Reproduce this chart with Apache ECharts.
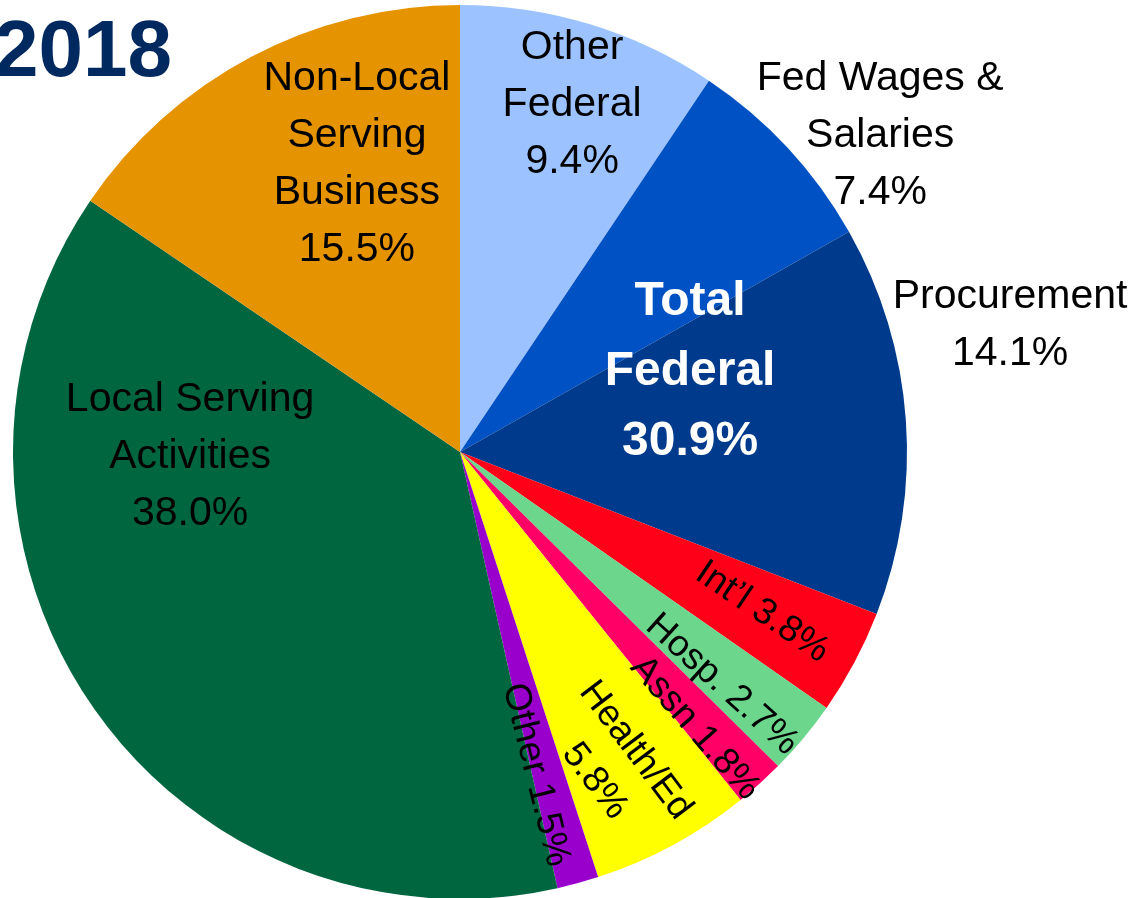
<!DOCTYPE html>
<html>
<head>
<meta charset="utf-8">
<script src="https://cdn.jsdelivr.net/npm/echarts@6/dist/echarts.min.js"></script>
<style>
  html, body { margin: 0; padding: 0; background: #fff; }
  #chart { width: 1133px; height: 898px; }
</style>
</head>
<body>
<div id="chart"></div>
<script>
// slices, clockwise from 12 o'clock
const sliceNames = [
  'Other\nFederal',
  'Fed Wages &\nSalaries',
  'Procurement',
  'Int\u2019l',
  'Hosp.',
  'Assn',
  'Health/Ed',
  'Other',
  'Local Serving\nActivities',
  'Non-Local\nServing\nBusiness'
];
const sliceValues = [9.4, 7.4, 14.1, 3.8, 2.7, 1.8, 5.8, 1.5, 38.0, 15.5];
const sliceColors = [
  '#9cc3ff', '#0052c4', '#003a8c', '#ff0019', '#6cd68c',
  '#ff0066', '#ffff00', '#9900cc', '#006640', '#e59400'
];
// what goes between the name and the percent
const valueSep = ['\n', '\n', '\n', ' ', ' ', ' ', '\n', ' ', '\n', '\n'];

// the first three slices make up total federal
const groupNames = ['Total\nFederal', ''];
const fedCount = 3;

const CX = 460, CY = 452, R = 447;
const labelFont = "'Liberation Sans Narrow', 'Arial Narrow', 'Liberation Sans', Arial, sans-serif";

// label spot: [degrees clockwise from 12 o'clock, fraction of radius, text rotation]
const labelSpots = [
  [17.9, 0.816, 0],
  [53, 1.177, 0],
  [77, 1.263, 0],
  [117.9, 0.765, -34],
  [131.6, 0.784, -42],
  [139.6, 0.811, -49],
  [153.7, 0.783, -53],
  [166.8, 0.742, -76],
  [269, 0.604, 0],
  [340.3, 0.684, 0]
];
// the rotated labels on the thin slices are a bit smaller
const labelSizes = [41, 41, 41, 37, 37, 37, 37, 37, 41, 41];
const groupSpot = [70.8, 0.545, 0];

function spotToLayout(spot) {
  const a = spot[0] * Math.PI / 180;
  const r = spot[1] * R;
  return {
    x: CX + r * Math.sin(a),
    y: CY - r * Math.cos(a),
    rotate: spot[2],
    align: 'center',
    verticalAlign: 'middle'
  };
}

const sum = arr => arr.reduce((s, v) => s + v, 0);
const fedTotal = sum(sliceValues.slice(0, fedCount));
const restTotal = sum(sliceValues.slice(fedCount));

const myChart = echarts.init(document.getElementById('chart'));
const option = {
  animation: false,
  backgroundColor: '#fff',
  title: {
    text: '2018',
    left: -6,
    top: 14,
    padding: 0,
    textStyle: {
      fontFamily: labelFont,
      fontSize: 80,
      fontWeight: 'bold',
      color: '#00295f'
    }
  },
  series: [
    {
      type: 'pie',
      center: [CX, CY],
      radius: R,
      startAngle: 90,
      clockwise: true,
      silent: true,
      itemStyle: { borderWidth: 0 },
      label: {
        show: true,
        position: 'inside',
        fontFamily: labelFont,
        fontSize: 41,
        lineHeight: 57,
        color: '#000',
        formatter: p => p.name + valueSep[p.dataIndex] + p.value.toFixed(1) + '%'
      },
      labelLine: { show: false },
      labelLayout: p => spotToLayout(labelSpots[p.dataIndex]),
      data: sliceNames.map((name, i) => ({
        name: name,
        value: sliceValues[i],
        itemStyle: { color: sliceColors[i] },
        label: { fontSize: labelSizes[i], lineHeight: Math.round(labelSizes[i] * 1.38) }
      }))
    },
    {
      // transparent overlay, only carries the total federal label
      type: 'pie',
      center: [CX, CY],
      radius: R,
      startAngle: 90,
      clockwise: true,
      silent: true,
      z: 3,
      itemStyle: { borderWidth: 0, color: 'rgba(0,0,0,0)' },
      label: {
        show: true,
        position: 'inside',
        fontFamily: labelFont,
        fontSize: 48,
        lineHeight: 70,
        fontWeight: 'bold',
        color: '#fff',
        formatter: p => p.name + '\n' + p.value.toFixed(1) + '%'
      },
      labelLine: { show: false },
      labelLayout: p => spotToLayout(groupSpot),
      data: [
        { name: groupNames[0], value: fedTotal },
        { name: groupNames[1], value: restTotal, label: { show: false } }
      ]
    }
  ]
};
myChart.setOption(option);
</script>
</body>
</html>
